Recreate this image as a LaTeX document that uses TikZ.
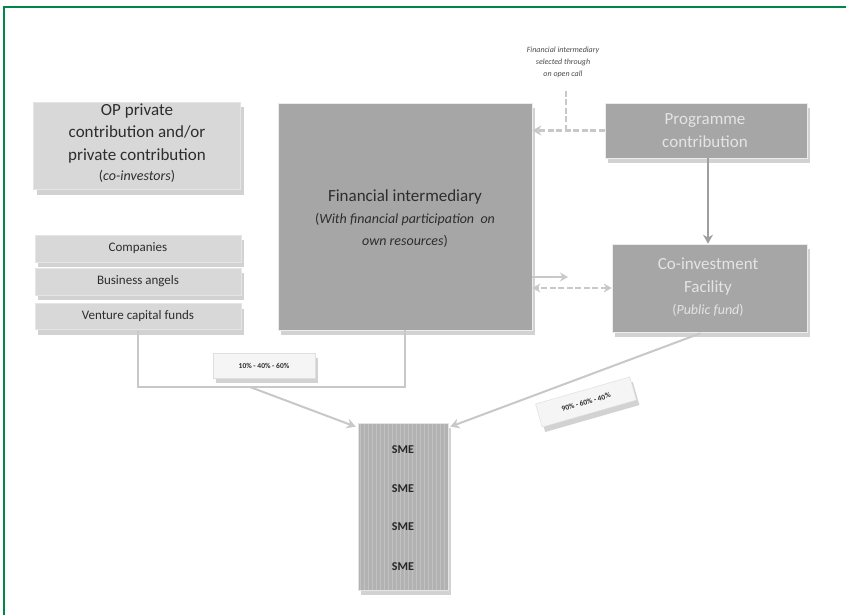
\documentclass[tikz,border=0pt]{standalone}
\usepackage{fontspec}
\setmainfont{Carlito}
\usetikzlibrary{shadows,arrows.meta,calc}
\definecolor{framegreen}{RGB}{0,135,70}
\definecolor{lightbox}{RGB}{216,216,216}
\definecolor{darkbox}{RGB}{166,166,166}
\definecolor{smebox}{RGB}{178,178,178}
\definecolor{smestripe}{RGB}{194,194,194}
\definecolor{darktext}{RGB}{45,45,45}
\definecolor{lighttext}{RGB}{228,228,228}
\definecolor{linegray}{RGB}{200,200,200}
\tikzset{
  shadowed/.style={drop shadow={opacity=0.35, shadow xshift=3pt, shadow yshift=-5pt}},
  lightrect/.style={draw=white!80!gray, line width=0.6pt, fill=lightbox, shadowed, inner sep=0pt},
  darkrect/.style={draw=white!85!gray, line width=0.6pt, fill=darkbox, shadowed, inner sep=0pt},
  dtext/.style={text=darktext, align=center, inner sep=0pt},
  ltext/.style={text=lighttext, align=center, inner sep=0pt},
  conn/.style={draw=linegray, line width=2.4pt},
  dashconn/.style={draw=linegray, line width=2.4pt, dash pattern=on 6pt off 2.5pt},
  tip/.style={-{Stealth[length=9pt,width=10pt]}},
  pctbox/.style={draw=white!75!gray, line width=0.5pt, fill=white!92!gray, shadowed, inner sep=0pt, font=\fontsize{7.5}{8}\selectfont\bfseries, text=darktext}
}
\begin{document}
\begin{tikzpicture}[x=1pt,y=-1pt]
\useasboundingbox (0,0) rectangle (846,615);
\fill[white] (0,0) rectangle (846,615);
% frame
\draw[framegreen, line width=1.6pt] (4,615) -- (4,7) -- (846,7);

% boxes
\node[lightrect, minimum width=207pt, minimum height=87pt] (op) at (137,146) {};
\node[dtext, font=\fontsize{17}{22.5}\selectfont] (optext) at (137,143) {OP private\\contribution and/or\\private contribution\\[-2pt]{\fontsize{14}{16}\selectfont(\textit{co-investors})}};

\node[lightrect, minimum width=206pt, minimum height=27pt] (comp) at (138,248.5) {};
\node[dtext, font=\fontsize{13}{15}\selectfont] at (comp) {Companies};
\node[lightrect, minimum width=206pt, minimum height=27pt] (ba) at (138,281.5) {};
\node[dtext, font=\fontsize{13}{15}\selectfont] at (ba) {Business angels};
\node[lightrect, minimum width=206pt, minimum height=26pt] (vc) at (138,316.5) {};
\node[dtext, font=\fontsize{13}{15}\selectfont] at (vc) {Venture capital funds};

\node[darkrect, minimum width=254pt, minimum height=227pt] (fi) at (405,216.5) {};
\node[dtext, font=\fontsize{17}{21}\selectfont] at (405,197) {Financial intermediary};
\node[dtext, font=\fontsize{14}{22}\selectfont] at (405,230) {(\textit{With financial participation\ \ on}\\\textit{own resources})};

\node[darkrect, minimum width=202pt, minimum height=55pt] (prog) at (706,130.5) {};
\node[ltext, font=\fontsize{17}{23}\selectfont] at (705,131) {Programme\\contribution};

\node[darkrect, minimum width=195pt, minimum height=88pt] (coinv) at (709.5,288) {};
\node[ltext, font=\fontsize{17}{23}\selectfont] at (708,277) {Co-investment\\Facility};
\node[ltext, font=\fontsize{14}{16}\selectfont] at (708,310) {(\textit{Public fund})};

% SME box
\node[draw=white!80!gray, line width=0.6pt, fill=smebox, shadowed, minimum width=90pt, minimum height=167pt, inner sep=0pt] (sme) at (403,506.5) {};
\foreach \i in {0,...,21} {
  \draw[smestripe, line width=1.2pt] ($(sme.north west)+(2.5+4*\i,0.8)$) -- ($(sme.south west)+(2.5+4*\i,-0.8)$);
}
\foreach \yy in {450,489,527,567} {
  \node[dtext, font=\fontsize{12}{14}\selectfont\bfseries, text=black!85] at (403,\yy) {SME};
}

% annotation
\node[dtext, font=\fontsize{8}{12}\selectfont\itshape, text=black!70] (annot) at (563,62) {Financial intermediary\\selected through\\on open call};
\coordinate (annotfoot) at (566,91);

% connectors
\draw[dashconn, line width=1.8pt] (annotfoot) -- (annotfoot |- prog.west);
\draw[dashconn, tip] (prog.west) -- (prog.west -| fi.east);

\draw[conn, draw=gray!75, line width=2.6pt, tip] ($(prog.south)+(2,0)$) -- ($(coinv.north)+(-1.5,0)$);

\coordinate (fiout) at ($(fi.east)+(0,60.5)$);
\coordinate (fiend) at (568,277);
\draw[conn, line width=1.6pt, -{Stealth[length=8pt,width=9pt,open]}] (fiout) -- (fiend);
\draw[dashconn, {Stealth[length=8pt,width=9pt]}-{Stealth[length=8pt,width=9pt]}] (coinv.west) -- (coinv.west -| fi.east);

% bracket
\coordinate (brL) at (vc.south |- 0,387);
\coordinate (brR) at (fi.south |- 0,387);
\coordinate (brA) at (250,387);
\draw[conn] (vc.south) -- (brL) -- (brR) -- (fi.south);
\draw[conn, line width=2pt, tip] (brA) -- ($(sme.north west)+(-2,4)$);
\node[pctbox, minimum width=102pt, minimum height=25pt] (p1) at (264,365.5) {10\% - 40\% - 60\%};

\coordinate (cvout) at ($(coinv.south)+(-9,1)$);
\draw[conn, line width=2pt, tip] (cvout) -- ($(sme.north east)+(2,4)$);
\node[pctbox, rotate=16, minimum width=98pt, minimum height=24pt] (p2) at (586,402) {90\% - 60\% - 40\%};
\end{tikzpicture}
\end{document}
